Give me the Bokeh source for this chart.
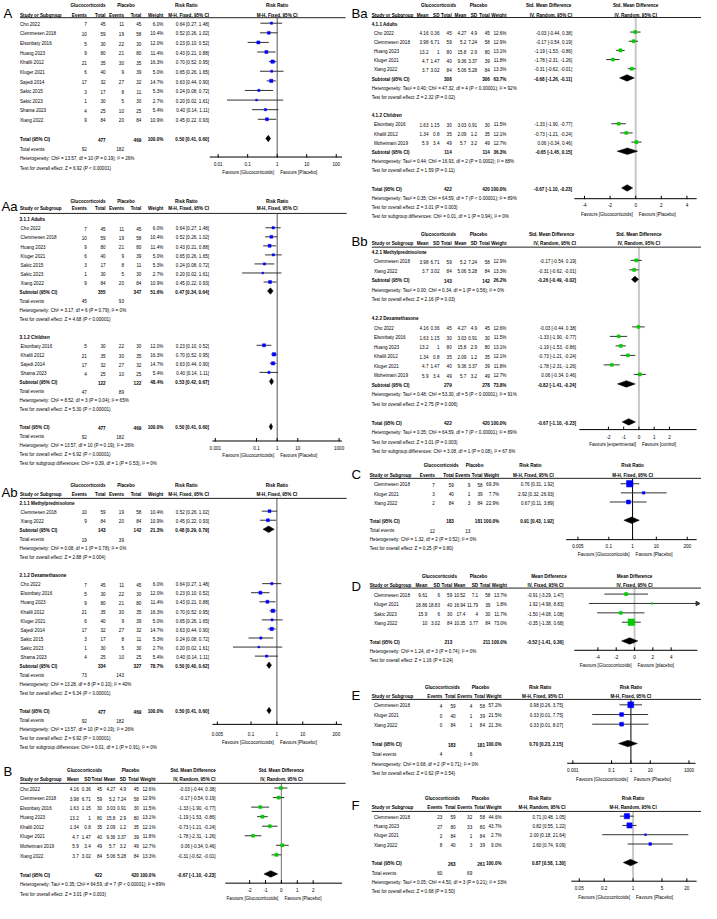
import math
from collections import defaultdict
from bokeh.plotting import figure
from bokeh.models import Range1d, LogScale, LinearScale, ColumnDataSource
from bokeh.core.properties import value
from bokeh.embed import file_html
from bokeh.resources import INLINE

# ======================= DATA =======================
# Mortality, risk ratio (panels A, Aa, Ab)
mort_study = ["Cho 2022", "Clemmesen 2018", "Elsonbaty 2016", "Huang 2023", "Khalili 2012", "Kluger 2021",
              "Sajedi 2014", "Sakic 2015", "Sakic 2023", "Shama 2023", "Xiang 2022"]
mort_e1 = [7, 10, 5, 9, 21, 6, 17, 3, 1, 4, 9]
mort_n1 = [45, 59, 30, 80, 35, 40, 32, 17, 30, 25, 84]
mort_e2 = [11, 19, 22, 21, 30, 9, 27, 8, 5, 10, 20]
mort_n2 = [45, 58, 30, 80, 35, 39, 32, 11, 30, 25, 84]
mort_w = [6.0, 10.4, 12.0, 11.4, 16.3, 5.0, 14.7, 5.3, 2.7, 5.4, 10.9]
mort_rr = [0.64, 0.52, 0.23, 0.43, 0.70, 0.65, 0.63, 0.24, 0.20, 0.40, 0.45]
mort_lo = [0.27, 0.26, 0.10, 0.21, 0.52, 0.26, 0.44, 0.08, 0.02, 0.14, 0.22]
mort_hi = [1.48, 1.02, 0.52, 0.88, 0.95, 1.65, 0.90, 0.72, 1.61, 1.11, 0.93]
mort_total = [477, 469, 0.50, 0.41, 0.60]
mort_events = [92, 182]
mort_het = "Heterogeneity: Chi² = 13.57, df = 10 (P = 0.19); I² = 26%"
mort_z = "Test for overall effect: Z = 6.92 (P < 0.00001)"

age_groups = ["3.1.1 Adults", "3.1.2 Children"]
age_members = [["Cho 2022", "Clemmesen 2018", "Huang 2023", "Kluger 2021", "Sakic 2015", "Sakic 2023", "Xiang 2022"],
               ["Elsonbaty 2016", "Khalili 2012", "Sajedi 2014", "Shama 2023"]]
age_n1 = [355, 122]
age_n2 = [347, 122]
age_w = [51.6, 48.4]
age_rr = [0.47, 0.53]
age_lo = [0.34, 0.42]
age_hi = [0.64, 0.67]
age_e1 = [45, 47]
age_e2 = [93, 89]
age_het = ["Heterogeneity: Chi² = 3.17, df = 6 (P = 0.79); I² = 0%",
           "Heterogeneity: Chi² = 8.52, df = 3 (P = 0.04); I² = 65%"]
age_z = ["Test for overall effect: Z = 4.68 (P < 0.00001)",
         "Test for overall effect: Z = 5.30 (P < 0.00001)"]
age_diff = "Test for subgroup differences: Chi² = 0.39, df = 1 (P = 0.53), I² = 0%"

drug_groups = ["2.1.1 Methylprednisolone", "2.1.2 Dexamethasone"]
drug_members = [["Clemmesen 2018", "Xiang 2022"],
                ["Cho 2022", "Elsonbaty 2016", "Huang 2023", "Khalili 2012", "Kluger 2021", "Sajedi 2014",
                 "Sakic 2015", "Sakic 2023", "Shama 2023"]]
drug_n1 = [143, 334]
drug_n2 = [142, 327]
drug_w = [21.3, 78.7]
drug_rr = [0.48, 0.50]
drug_lo = [0.29, 0.40]
drug_hi = [0.79, 0.62]
drug_e1 = [19, 73]
drug_e2 = [39, 143]
drug_het = ["Heterogeneity: Chi² = 0.08, df = 1 (P = 0.78); I² = 0%",
            "Heterogeneity: Chi² = 13.28, df = 8 (P = 0.10); I² = 40%"]
drug_z = ["Test for overall effect: Z = 2.88 (P = 0.004)",
          "Test for overall effect: Z = 6.34 (P < 0.00001)"]
drug_diff = "Test for subgroup differences: Chi² = 0.01, df = 1 (P = 0.91), I² = 0%"

# Std. mean difference (panels B, Ba, Bb)
smd_study = ["Cho 2022", "Clemmesen 2018", "Elsonbaty 2016", "Huang 2023", "Khalili 2012", "Kluger 2021",
             "Moheimani 2019", "Xiang 2022"]
smd_m1 = [4.16, 3.98, 1.63, 13.2, 1.34, 4.7, 5.9, 3.7]
smd_sd1 = [0.36, 6.71, 1.15, 1, 0.8, 1.47, 3.4, 3.02]
smd_n1 = [45, 59, 30, 80, 35, 40, 49, 84]
smd_m2 = [4.27, 5.2, 3.03, 15.8, 2.09, 9.36, 5.7, 5.06]
smd_sd2 = [4.9, 7.24, 0.91, 2.9, 1.2, 3.37, 3.2, 5.28]
smd_n2 = [45, 58, 30, 80, 35, 39, 49, 84]
smd_w = [12.6, 12.9, 11.5, 13.1, 12.1, 11.8, 12.7, 13.3]
smd_est = [-0.03, -0.17, -1.33, -1.19, -0.73, -1.78, 0.06, -0.31]
smd_lo = [-0.44, -0.54, -1.90, -1.53, -1.21, -2.31, -0.34, -0.62]
smd_hi = [0.38, 0.19, -0.77, -0.86, -0.24, -1.26, 0.46, -0.01]
smd_total = [422, 420, -0.67, -1.10, -0.23]
smd_het = "Heterogeneity: Tau² = 0.35; Chi² = 64.59, df = 7 (P < 0.00001); I² = 89%"
smd_z = "Test for overall effect: Z = 3.01 (P = 0.003)"

sage_groups = ["4.1.1 Adults", "4.1.2 Children"]
sage_members = [["Cho 2022", "Clemmesen 2018", "Huang 2023", "Kluger 2021", "Xiang 2022"],
                ["Elsonbaty 2016", "Khalili 2012", "Moheimani 2019"]]
sage_n1 = [308, 114]
sage_n2 = [306, 114]
sage_w = [63.7, 36.3]
sage_est = [-0.68, -0.65]
sage_lo = [-1.26, -1.45]
sage_hi = [-0.11, 0.15]
sage_het = ["Heterogeneity: Tau² = 0.40; Chi² = 47.32, df = 4 (P < 0.00001); I² = 92%",
            "Heterogeneity: Tau² = 0.44; Chi² = 16.93, df = 2 (P = 0.0002); I² = 88%"]
sage_z = ["Test for overall effect: Z = 2.32 (P = 0.02)",
          "Test for overall effect: Z = 1.59 (P = 0.11)"]
sage_diff = "Test for subgroup differences: Chi² = 0.01, df = 1 (P = 0.94), I² = 0%"

sdrug_groups = ["4.2.1 Methylprednisolone", "4.2.2 Dexamethasone"]
sdrug_members = [["Clemmesen 2018", "Xiang 2022"],
                 ["Cho 2022", "Elsonbaty 2016", "Huang 2023", "Khalili 2012", "Kluger 2021", "Moheimani 2019"]]
sdrug_n1 = [143, 279]
sdrug_n2 = [142, 278]
sdrug_w = [26.2, 73.8]
sdrug_est = [-0.26, -0.82]
sdrug_lo = [-0.49, -1.41]
sdrug_hi = [-0.02, -0.24]
sdrug_het = ["Heterogeneity: Tau² = 0.00; Chi² = 0.34, df = 1 (P = 0.56); I² = 0%",
             "Heterogeneity: Tau² = 0.48; Chi² = 53.30, df = 5 (P < 0.00001); I² = 91%"]
sdrug_z = ["Test for overall effect: Z = 2.16 (P = 0.03)",
           "Test for overall effect: Z = 2.75 (P = 0.006)"]
sdrug_diff = "Test for subgroup differences: Chi² = 3.08, df = 1 (P = 0.08), I² = 67.6%"

# Panel C (risk ratio)
c_study = ["Clemmesen 2018", "Kluger 2021", "Xiang 2022"]
c_e1 = [7, 3, 2]
c_n1 = [59, 40, 84]
c_e2 = [9, 1, 3]
c_n2 = [58, 39, 84]
c_w = [69.3, 7.7, 22.9]
c_rr = [0.76, 2.92, 0.67]
c_lo = [0.31, 0.32, 0.11]
c_hi = [1.92, 26.93, 3.89]
c_total = [183, 181, 0.91, 0.43, 1.92]
c_events = [12, 13]
c_het = "Heterogeneity: Chi² = 1.32, df = 2 (P = 0.52); I² = 0%"
c_z = "Test for overall effect: Z = 0.25 (P = 0.80)"

# Panel D (mean difference)
d_study = ["Clemmesen 2018", "Kluger 2021", "Sakic 2023", "Xiang 2022"]
d_m1 = [9.61, 18.86, 15.9, 10]
d_sd1 = [6, 18.83, 6, 3.02]
d_n1 = [59, 40, 30, 84]
d_m2 = [10.52, 16.94, 17.4, 10.35]
d_sd2 = [7.1, 11.79, 4, 3.77]
d_n2 = [58, 39, 30, 84]
d_w = [13.7, 1.8, 11.7, 73.0]
d_md = [-0.91, 1.92, -1.50, -0.35]
d_lo = [-3.29, -4.98, -4.08, -1.38]
d_hi = [1.47, 8.83, 1.08, 0.68]
d_total = [213, 211, -0.52, -1.41, 0.36]
d_het = "Heterogeneity: Chi² = 1.24, df = 3 (P = 0.74); I² = 0%"
d_z = "Test for overall effect: Z = 1.16 (P = 0.24)"

# Panel E (risk ratio)
e_study = ["Clemmesen 2018", "Kluger 2021", "Xiang 2022"]
e_e1 = [4, 0, 0]
e_n1 = [59, 40, 84]
e_e2 = [4, 1, 1]
e_n2 = [58, 39, 84]
e_w = [57.2, 21.5, 21.3]
e_rr = [0.98, 0.33, 0.33]
e_lo = [0.26, 0.01, 0.01]
e_hi = [3.75, 7.75, 8.07]
e_total = [183, 181, 0.70, 0.23, 2.15]
e_events = [4, 6]
e_het = "Heterogeneity: Chi² = 0.68, df = 2 (P = 0.71); I² = 0%"
e_z = "Test for overall effect: Z = 0.62 (P = 0.54)"

# Panel F (risk ratio, random)
f_study = ["Clemmesen 2018", "Huang 2023", "Kluger 2021", "Xiang 2022"]
f_e1 = [23, 27, 2, 8]
f_n1 = [59, 80, 84, 40]
f_e2 = [32, 33, 1, 3]
f_n2 = [58, 80, 84, 39]
f_w = [44.6, 43.7, 2.7, 9.0]
f_rr = [0.71, 0.82, 2.00, 2.60]
f_lo = [0.48, 0.55, 0.18, 0.74]
f_hi = [1.05, 1.22, 21.64, 9.09]
f_total = [263, 261, 0.87, 0.58, 1.30]
f_events = [60, 69]
f_het = "Heterogeneity: Tau² = 0.05; Chi² = 4.50, df = 3 (P = 0.21); I² = 33%"
f_z = "Test for overall effect: Z = 0.68 (P = 0.50)"

# ======================= LAYOUT / STYLE =======================
REF_W, REF_H = 717, 919
PW, PH = 701, 903
FS = PW / REF_W
FONT = "Liberation Sans"
LFONT = "Liberation Sans"
TS = 4.7
BLUE = "#0000FF"
GREEN = "#00CC00"
CI_COL = "#333333"
MARK_DY = -1.2
DH = 3.3

p = figure(width=PW, height=PH, x_range=Range1d(0, REF_W), y_range=Range1d(REF_H, 0),
           output_backend="svg", toolbar_location=None, min_border=0,
           x_axis_type=None, y_axis_type=None)
p.grid.visible = False
p.outline_line_color = None

TXT = defaultdict(lambda: {"x": [], "y": [], "t": []})


def put(x, y, s, align="left", bold=False, size=TS, rng="default", xoff=0, font=FONT):
    d = TXT[(align, bold, size, rng, xoff, font)]
    d["x"].append(x)
    d["y"].append(y)
    d["t"].append(s)


RULES = {"x0": [], "x1": [], "y": []}


def fmt_ci(e, l, h):
    return f"{e:.2f} [{l:.2f}, {h:.2f}]"


def dich_rows(study, e1, n1, e2, n2, w, est, lo, hi, idx=None):
    idx = range(len(study)) if idx is None else idx
    return [("study", study[i], [str(e1[i]), str(n1[i]), str(e2[i]), str(n2[i]), f"{w[i]:.1f}%",
                                 fmt_ci(est[i], lo[i], hi[i])], est[i], lo[i], hi[i], w[i]) for i in idx]


def cont_rows(study, m1, s1, n1, m2, s2, n2, w, est, lo, hi, idx=None):
    idx = range(len(study)) if idx is None else idx
    return [("study", study[i], [f"{m1[i]:g}", f"{s1[i]:g}", str(n1[i]), f"{m2[i]:g}", f"{s2[i]:g}", str(n2[i]),
                                 f"{w[i]:.1f}%", fmt_ci(est[i], lo[i], hi[i])], est[i], lo[i], hi[i], w[i])
            for i in idx]


def dich_total(label, n1, n2, w, est, lo, hi):
    return ("total", label, ["", str(n1), "", str(n2), f"{w:.1f}%", fmt_ci(est, lo, hi)], est, lo, hi)


def cont_total(label, n1, n2, w, est, lo, hi):
    return ("total", label, ["", "", str(n1), "", "", str(n2), f"{w:.1f}%", fmt_ci(est, lo, hi)], est, lo, hi)


MORT = (mort_study, mort_e1, mort_n1, mort_e2, mort_n2, mort_w, mort_rr, mort_lo, mort_hi)
SMD = (smd_study, smd_m1, smd_sd1, smd_n1, smd_m2, smd_sd2, smd_n2, smd_w, smd_est, smd_lo, smd_hi)


def mort_sub(groups, members, n1, n2, w, est, lo, hi, e1, e2, het, z, diff):
    rows = []
    for g in range(len(groups)):
        rows.append(("group", groups[g]))
        rows += dich_rows(*MORT, idx=[mort_study.index(s) for s in members[g]])
        rows.append(dich_total("Subtotal (95% CI)", n1[g], n2[g], w[g], est[g], lo[g], hi[g]))
        rows.append(("events", e1[g], e2[g]))
        rows += [("note", het[g]), ("note", z[g]), ("blank",)]
    rows += [dich_total("Total (95% CI)", mort_total[0], mort_total[1], 100.0, *mort_total[2:]),
             ("events", *mort_events), ("note", mort_het), ("note", mort_z), ("note", diff)]
    return rows


def smd_sub(groups, members, n1, n2, w, est, lo, hi, het, z, diff):
    rows = []
    for g in range(len(groups)):
        rows.append(("group", groups[g]))
        rows += cont_rows(*SMD, idx=[smd_study.index(s) for s in members[g]])
        rows.append(cont_total("Subtotal (95% CI)", n1[g], n2[g], w[g], est[g], lo[g], hi[g]))
        rows += [("note", het[g]), ("note", z[g]), ("blank",)]
    rows += [cont_total("Total (95% CI)", smd_total[0], smd_total[1], 100.0, *smd_total[2:]),
             ("note", smd_het), ("note", smd_z), ("note", diff)]
    return rows


DICH_H2 = ["Events", "Total", "Events", "Total", "Weight"]
CONT_H2 = ["Mean", "SD", "Total", "Mean", "SD", "Total", "Weight"]


def panel(cfg, rows):
    nm = cfg["label"]
    f = cfg["forest"]
    null_px, k = f["null_px"], f["k"]
    if f["log"]:
        p.extra_x_ranges[nm] = Range1d(10 ** (-null_px / k), 10 ** ((REF_W - null_px) / k))
        p.extra_x_scales[nm] = LogScale()
        nv = 1.0
    else:
        p.extra_x_ranges[nm] = Range1d(-null_px / k, (REF_W - null_px) / k)
        p.extra_x_scales[nm] = LinearScale()
        nv = 0.0
    cols = cfg["cols"]
    put(cfg["label_x"], cfg["label_y"], cfg["label"], size=13.5, font=LFONT)
    for t, xc in cfg["hdr1"]:
        put(xc, cfg["y_h1"], t, align="center", bold=True)
    put(nv, cfg["y_h1"], cfg["hdr1"][-1][0], align="center", bold=True, rng=nm)
    put(cfg["x_hdr"], cfg["y_h2"], "Study or Subgroup", bold=True)
    for t, xr in zip(cfg["hdr2"] + [cfg["method"]], cols):
        put(xr, cfg["y_h2"], t, align="right", bold=True)
    put(nv, cfg["y_h2"], cfg["method"], align="center", bold=True, rng=nm)
    RULES["x0"].append(cfg["rule"][0])
    RULES["x1"].append(cfg["rule"][1])
    RULES["y"].append(cfg["y_rule"])

    lo_lim, hi_lim = f["lim"]
    ci = {"x0": [], "x1": [], "y": []}
    sq = {"x": [], "y": [], "s": []}
    dia = {"xs": [], "ys": []}
    arr = {"x": [], "y": [], "a": []}
    for i, r in enumerate(rows):
        y = cfg["y0"] + i * cfg["step"]
        ym = y + MARK_DY
        kind = r[0]
        if kind == "group":
            put(cfg["x_grp"], y, r[1], bold=True)
        elif kind == "study":
            _, name, cells, est, lo, hi, w = r
            put(cfg["x_study"], y, name)
            for c, xr in zip(cells, cols):
                put(xr, y, c, align="right")
            ci["x0"].append(max(lo, lo_lim))
            ci["x1"].append(min(hi, hi_lim))
            ci["y"].append(ym)
            if hi > hi_lim:
                arr["x"].append(hi_lim); arr["y"].append(ym); arr["a"].append(-math.pi / 2)
            if lo < lo_lim:
                arr["x"].append(lo_lim); arr["y"].append(ym); arr["a"].append(math.pi / 2)
            sq["x"].append(est)
            sq["y"].append(ym)
            sq["s"].append(0.7 * math.sqrt(w) + 0.6)
        elif kind == "total":
            _, lab, cells, est, lo, hi = r
            put(cfg["x_grp"], y, lab, bold=True)
            for c, xr in zip(cells, cols):
                if c:
                    put(xr, y, c, align="right", bold=True)
            dia["xs"].append([lo, est, hi, est])
            dia["ys"].append([ym, ym - DH, ym, ym + DH])
        elif kind == "events":
            put(cfg["x_grp"], y, "Total events")
            put(cols[0], y, str(r[1]), align="right")
            put(cols[2], y, str(r[2]), align="right")
        elif kind == "note":
            put(cfg["x_grp"], y, r[1])

    ay = f["axis_y"]
    p.segment(x0=[nv], y0=[cfg["y_rule"]], x1=[nv], y1=[ay], x_range_name=nm,
              line_color=f["null_color"], line_width=f["null_w"])
    p.segment(x0=ci["x0"], y0=ci["y"], x1=ci["x1"], y1=ci["y"], x_range_name=nm,
              line_color=CI_COL, line_width=1)
    p.scatter(x=sq["x"], y=sq["y"], size=sq["s"], marker="square", fill_color=f["sq"],
              line_color=f["sq"], line_width=0.5, x_range_name=nm)
    if arr["x"]:
        p.scatter(x=arr["x"], y=arr["y"], angle=arr["a"], marker="triangle", size=4.5,
                  fill_color=CI_COL, line_color=CI_COL, x_range_name=nm)
    p.patches(xs=dia["xs"], ys=dia["ys"], fill_color="black", line_color="black", line_width=0.5,
              x_range_name=nm)
    ticks = f["ticks"]
    p.segment(x0=[lo_lim], y0=[ay], x1=[hi_lim], y1=[ay], x_range_name=nm, line_color="black", line_width=1)
    p.segment(x0=ticks, y0=[ay - 3] * len(ticks), x1=ticks, y1=[ay + 0.5] * len(ticks), x_range_name=nm,
              line_color="black", line_width=1)
    for t in ticks:
        put(t, f["tick_y"], f"{t:g}", align="center", rng=nm)
    put(nv, f["fav_y"], f["fav"][0], align="right", rng=nm, xoff=-3)
    put(nv, f["fav_y"], f["fav"][1], align="left", rng=nm, xoff=3)


FAV_GP = ("Favours [Glucocorticoids]", "Favours [Placebo]")
A_COLS = [88.3, 107.5, 126.3, 144, 166.5, 213.3]
A_H1 = [("Glucocorticoids", 89.5), ("Placebo", 128.3), ("Risk Ratio", 190)]

# ---------- Panel A ----------
rows_A = dich_rows(*MORT) + [("blank",),
                             dich_total("Total (95% CI)", mort_total[0], mort_total[1], 100.0, *mort_total[2:]),
                             ("events", *mort_events), ("note", mort_het), ("note", mort_z)]
panel(dict(label="A", label_x=3, label_y=13.5, y_h1=5, y_h2=15, y_rule=17.5, rule=(20, 353),
           x_hdr=20, x_study=20, x_grp=20, cols=A_COLS, hdr1=A_H1, hdr2=DICH_H2, method="M-H, Fixed, 95% CI",
           y0=24.3, step=9.78,
           forest=dict(log=True, null_px=283, k=30.2, ticks=[0.01, 0.1, 1, 10, 100], lim=(0.0052, 157),
                       axis_y=159.3, tick_y=166.3, fav_y=175, fav=FAV_GP, null_color="#555555", null_w=1,
                       sq=BLUE)), rows_A)

# ---------- Panel Aa ----------
rows_Aa = mort_sub(age_groups, age_members, age_n1, age_n2, age_w, age_rr, age_lo, age_hi, age_e1, age_e2,
                   age_het, age_z, age_diff)
panel(dict(label="Aa", label_x=1, label_y=209.7, y_h1=204.3, y_h2=211.7, y_rule=216.7, rule=(20, 354),
           x_hdr=20, x_study=20.5, x_grp=19.5, cols=A_COLS, hdr1=A_H1, hdr2=DICH_H2, method="M-H, Fixed, 95% CI",
           y0=223.3, step=9.2,
           forest=dict(log=True, null_px=283, k=21.1, ticks=[0.001, 0.1, 1, 10, 1000], lim=(0.00072, 1380),
                       axis_y=448.3, tick_y=455, fav_y=463.3, fav=FAV_GP, null_color="#555555", null_w=1,
                       sq=BLUE)), rows_Aa)

# ---------- Panel Ab ----------
rows_Ab = mort_sub(drug_groups, drug_members, drug_n1, drug_n2, drug_w, drug_rr, drug_lo, drug_hi, drug_e1,
                   drug_e2, drug_het, drug_z, drug_diff)
panel(dict(label="Ab", label_x=1, label_y=501, y_h1=494, y_h2=502.7, y_rule=506.7, rule=(20, 354),
           x_hdr=20, x_study=20.5, x_grp=19.5, cols=A_COLS, hdr1=A_H1, hdr2=DICH_H2, method="M-H, Fixed, 95% CI",
           y0=511.7, step=9.22,
           forest=dict(log=True, null_px=282.7, k=26.45, ticks=[0.005, 0.1, 1, 10, 200], lim=(0.0032, 330),
                       axis_y=736.7, tick_y=746, fav_y=755, fav=FAV_GP, null_color="#555555", null_w=1,
                       sq=BLUE)), rows_Ab)

# ---------- Panel B ----------
rows_B = cont_rows(*SMD) + [("blank",),
                            cont_total("Total (95% CI)", smd_total[0], smd_total[1], 100.0, *smd_total[2:]),
                            ("note", smd_het), ("note", smd_z)]
panel(dict(label="B", label_x=3, label_y=785, y_h1=784, y_h2=792.3, y_rule=796.7, rule=(20, 353),
           x_hdr=20, x_study=20, x_grp=20, cols=[80, 92.3, 104, 117.5, 128.5, 141.5, 158.5, 220],
           hdr1=[("Glucocorticoids", 86), ("Placebo", 133), ("Std. Mean Difference", 197)],
           hdr2=CONT_H2, method="IV, Random, 95% CI", y0=802.7, step=9.71,
           forest=dict(log=False, null_px=287.3, k=16.25, ticks=[-2, -1, 0, 1, 2], lim=(-3.53, 3.82),
                       axis_y=898.3, tick_y=905, fav_y=914.3, fav=FAV_GP, null_color="#8A8A8A", null_w=1.2,
                       sq=GREEN)), rows_B)

# ---------- Panel Ba ----------
rows_Ba = smd_sub(sage_groups, sage_members, sage_n1, sage_n2, sage_w, sage_est, sage_lo, sage_hi,
                  sage_het, sage_z, sage_diff)
panel(dict(label="Ba", label_x=359, label_y=13, y_h1=5, y_h2=15, y_rule=17.3, rule=(379.7, 717),
           x_hdr=379.7, x_study=382, x_grp=379.7, cols=[437.7, 449, 461.5, 476.5, 487.5, 500.5, 517.5, 584.7],
           hdr1=[("Glucocorticoids", 448), ("Placebo", 489), ("Std. Mean Difference", 560.7)],
           hdr2=CONT_H2, method="IV, Random, 95% CI", y0=24, step=9.33,
           forest=dict(log=False, null_px=649.7, k=13.1, ticks=[-4, -2, 0, 2, 4], lim=(-4.79, 4.76),
                       axis_y=201.7, tick_y=208.3, fav_y=218.3, fav=FAV_GP, null_color="#C8C8C8", null_w=2,
                       sq=GREEN)), rows_Ba)

# ---------- Panel Bb ----------
rows_Bb = smd_sub(sdrug_groups, sdrug_members, sdrug_n1, sdrug_n2, sdrug_w, sdrug_est, sdrug_lo, sdrug_hi,
                  sdrug_het, sdrug_z, sdrug_diff)
panel(dict(label="Bb", label_x=359, label_y=245, y_h1=238.3, y_h2=247.3, y_rule=251, rule=(379.7, 717),
           x_hdr=379.7, x_study=382, x_grp=379.7, cols=[437.7, 449, 461.5, 476.5, 487.5, 500.5, 517.5, 588.7],
           hdr1=[("Glucocorticoids", 448), ("Placebo", 489), ("Std. Mean Difference", 563.7)],
           hdr2=CONT_H2, method="IV, Random, 95% CI", y0=256, step=9.67,
           forest=dict(log=False, null_px=653, k=15.6, ticks=[-2, -1, 0, 1, 2], lim=(-3.91, 3.78),
                       axis_y=436.7, tick_y=444, fav_y=452.3, fav=("Favours [experimental]", "Favours [control]"),
                       null_color="#C8C8C8", null_w=2, sq=GREEN)), rows_Bb)

# ---------- Panel C ----------
rows_C = dich_rows(c_study, c_e1, c_n1, c_e2, c_n2, c_w, c_rr, c_lo, c_hi) + [
    ("blank",), dich_total("Total (95% CI)", c_total[0], c_total[1], 100.0, *c_total[2:]),
    ("events", *c_events), ("note", c_het), ("note", c_z)]
panel(dict(label="C", label_x=359, label_y=482.5, y_h1=473.3, y_h2=483, y_rule=486.3, rule=(377.7, 717),
           x_hdr=377.7, x_study=382, x_grp=377.7, cols=[444.3, 463.7, 480.5, 493, 510, 566],
           hdr1=[("Glucocorticoids", 450.7), ("Placebo", 485), ("Risk Ratio", 542)],
           hdr2=DICH_H2, method="M-H, Fixed, 95% CI", y0=493, step=9.29,
           forest=dict(log=True, null_px=646.5, k=24.3, ticks=[0.005, 0.1, 1, 10, 200], lim=(0.0016, 496),
                       axis_y=548.7, tick_y=555.3, fav_y=564, fav=FAV_GP, null_color="#000000", null_w=1,
                       sq=BLUE)), rows_C)

# ---------- Panel D ----------
rows_D = cont_rows(d_study, d_m1, d_sd1, d_n1, d_m2, d_sd2, d_n2, d_w, d_md, d_lo, d_hi) + [
    ("blank",), cont_total("Total (95% CI)", d_total[0], d_total[1], 100.0, *d_total[2:]),
    ("note", d_het), ("note", d_z)]
panel(dict(label="D", label_x=359, label_y=596, y_h1=586.3, y_h2=595.3, y_rule=598, rule=(377.7, 717),
           x_hdr=377.7, x_study=382, x_grp=377.7, cols=[436.5, 449.5, 462, 475.5, 488.5, 501, 518, 576],
           hdr1=[("Glucocorticoids", 449), ("Placebo", 489), ("Mean Difference", 561)],
           hdr2=CONT_H2, method="IV, Fixed, 95% CI", y0=605.3, step=9.55,
           forest=dict(log=False, null_px=648.5, k=9.37, ticks=[-4, -2, 0, 2, 4], lim=(-6.58, 6.86),
                       axis_y=661.3, tick_y=668, fav_y=676.3, fav=("Favours [Glucocorticoids]", "Favours [placebo]"),
                       null_color="#C8C8C8", null_w=2, sq=GREEN)), rows_D)

# ---------- Panel E ----------
rows_E = dich_rows(e_study, e_e1, e_n1, e_e2, e_n2, e_w, e_rr, e_lo, e_hi) + [
    ("blank",), dich_total("Total (95% CI)", e_total[0], e_total[1], 100.0, *e_total[2:]),
    ("events", *e_events), ("note", e_het), ("note", e_z)]
panel(dict(label="E", label_x=359, label_y=707.5, y_h1=699, y_h2=708, y_rule=711.3, rule=(379.7, 717),
           x_hdr=379.7, x_study=382, x_grp=379.7, cols=[452, 465.5, 482.5, 495.5, 512.5, 575.3],
           hdr1=[("Glucocorticoids", 452), ("Placebo", 491), ("Risk Ratio", 552)],
           hdr2=DICH_H2, method="M-H, Fixed, 95% CI", y0=718, step=9.86,
           forest=dict(log=True, null_px=644.8, k=19.8, ticks=[0.001, 0.1, 1, 10, 1000], lim=(0.00051, 2190),
                       axis_y=776.3, tick_y=783, fav_y=793, fav=FAV_GP, null_color="#000000", null_w=1,
                       sq=BLUE)), rows_E)

# ---------- Panel F ----------
rows_F = dich_rows(f_study, f_e1, f_n1, f_e2, f_n2, f_w, f_rr, f_lo, f_hi) + [
    ("blank",), dich_total("Total (95% CI)", f_total[0], f_total[1], 100.0, *f_total[2:]),
    ("events", *f_events), ("note", f_het), ("note", f_z)]
panel(dict(label="F", label_x=359, label_y=819.5, y_h1=812.3, y_h2=821.3, y_rule=825.3, rule=(379.7, 717),
           x_hdr=379.7, x_study=382, x_grp=379.7, cols=[452, 465.5, 482.5, 495.5, 512.5, 578],
           hdr1=[("Glucocorticoids", 452), ("Placebo", 491), ("Risk Ratio", 552)],
           hdr2=DICH_H2, method="M-H, Random, 95% CI", y0=831.3, step=9.45,
           forest=dict(log=True, null_px=647, k=42.3, ticks=[0.05, 0.2, 1, 5, 20], lim=(0.032, 34.4),
                       axis_y=896.3, tick_y=903.7, fav_y=913, fav=FAV_GP, null_color="#C8C8C8", null_w=2,
                       sq=BLUE)), rows_F)

# header rules
p.segment(x0=RULES["x0"], y0=RULES["y"], x1=RULES["x1"], y1=RULES["y"], line_color="#222222", line_width=1)

# all texts
for (align, bold, size, rng, xoff, font), d in TXT.items():
    src = ColumnDataSource(dict(x=d["x"], y=d["y"], t=d["t"]))
    p.text(x="x", y="y", text="t", source=src, text_align=align, text_baseline="middle",
           text_font=value(font), text_font_style="bold" if bold else "normal",
           text_font_size=f"{size * FS:.2f}px", text_color="black", x_offset=xoff, x_range_name=rng)

open("out.html", "w").write(file_html(p, INLINE))
